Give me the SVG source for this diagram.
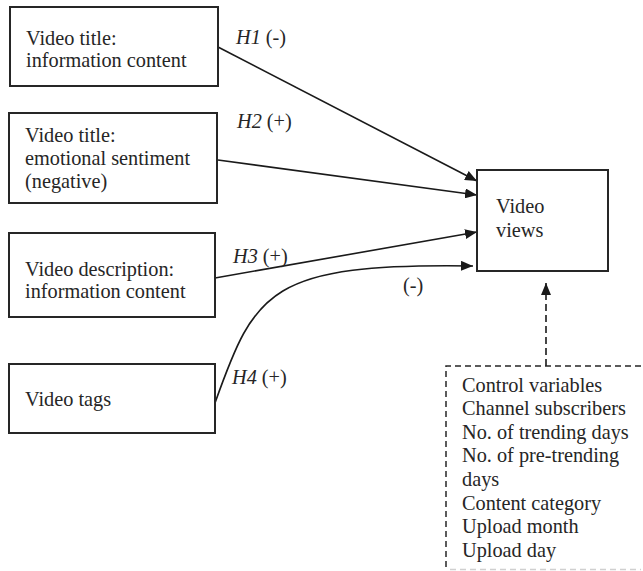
<svg xmlns="http://www.w3.org/2000/svg" width="643" height="571" viewBox="0 0 643 571">
<defs>
<marker id="ah" markerWidth="12" markerHeight="10" refX="12" refY="5" orient="auto" markerUnits="userSpaceOnUse">
<path d="M0,0 L12,5 L0,10 Z" fill="#1a1a1a"/>
</marker>
<style>
.box{fill:#fff;stroke:#262626;stroke-width:2}
.dbox{fill:none;stroke:#262626;stroke-width:1.5;stroke-dasharray:6 4}
.dlow{fill:none;stroke:#d0d0d0;stroke-width:1.5;stroke-dasharray:6 4}
.t{font-family:"Liberation Serif","Times New Roman",serif;font-size:20.3px;fill:#262626}
.i{font-style:italic}
.c{fill:none;stroke:#1a1a1a;stroke-width:1.6}
.d{fill:none;stroke:#1a1a1a;stroke-width:1.6;stroke-dasharray:7 4}
</style>
</defs>
<rect width="643" height="571" fill="#fff"/>
<g id="connectors">
<line class="c" x1="218" y1="47" x2="477" y2="181" marker-end="url(#ah)"/>
<line class="c" x1="218" y1="160" x2="477" y2="195" marker-end="url(#ah)"/>
<line class="c" x1="215" y1="278" x2="477" y2="232" marker-end="url(#ah)"/>
<path class="c" d="M215,403 C255,290 270,263 473,266" marker-end="url(#ah)"/>
<line class="d" x1="546" y1="366" x2="546" y2="283" marker-end="url(#ah)"/>
<text class="t" x="236" y="44"><tspan class="i">H1</tspan> (-)</text>
<text class="t" x="237" y="128"><tspan class="i">H2</tspan> (+)</text>
<text class="t" x="233" y="263"><tspan class="i">H3</tspan> (+)</text>
<text class="t" x="232" y="384"><tspan class="i">H4</tspan> (+)</text>
<text class="t" x="403" y="292">(-)</text>
</g>
<g id="title-info">
<rect class="box" x="10" y="7" width="208" height="79"/>
<text class="t" x="26" y="45">Video title:</text>
<text class="t" x="26" y="67">information content</text>
</g>
<g id="title-sentiment">
<rect class="box" x="9" y="113" width="208" height="90"/>
<text class="t" x="25" y="142">Video title:</text>
<text class="t" x="25" y="165">emotional sentiment</text>
<text class="t" x="25" y="188">(negative)</text>
</g>
<g id="description">
<rect class="box" x="9" y="233" width="206" height="84"/>
<text class="t" x="25" y="276">Video description:</text>
<text class="t" x="25" y="298">information content</text>
</g>
<g id="tags">
<rect class="box" x="9" y="364" width="206" height="69"/>
<text class="t" x="25" y="406">Video tags</text>
</g>
<g id="views">
<rect class="box" x="477" y="170" width="131" height="101"/>
<text class="t" x="496" y="213">Video</text>
<text class="t" x="496" y="237">views</text>
</g>
<g id="controls">
<path class="dbox" d="M641,366 H446 V571"/>
<path class="dlow" d="M450,569.5 H641"/>
<text class="t" x="462" y="392">Control variables</text>
<text class="t" x="462" y="415">Channel subscribers</text>
<text class="t" x="462" y="439">No. of trending days</text>
<text class="t" x="462" y="462">No. of pre-trending</text>
<text class="t" x="462" y="486">days</text>
<text class="t" x="462" y="510">Content category</text>
<text class="t" x="462" y="533">Upload month</text>
<text class="t" x="462" y="557">Upload day</text>
</g>
</svg>
